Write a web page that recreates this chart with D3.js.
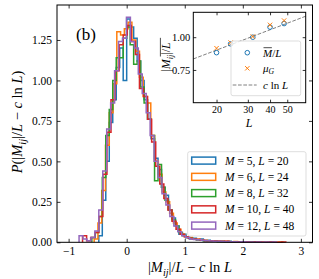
<!DOCTYPE html>
<html>
<head>
<meta charset="utf-8">
<script src="https://cdn.jsdelivr.net/npm/d3@7"></script>
<style>
  body { margin: 0; background: #fff; }
  svg text { font-family: "Liberation Serif", "Times New Roman", serif; fill: #000; }
</style>
</head>
<body>
<svg id="chart" width="319" height="279"></svg>
<script>
// ---- data ----
const mValues = [5, 6, 8, 10, 12];
const lValues = [20, 24, 32, 40, 48];
const colors = ["#1f77b4", "#ff7f0e", "#2ca02c", "#d62728", "#9467bd"];

// step histograms: first bin edge, bin width, densities
const binStart = [-0.48, -0.56, -0.60, -0.76, -0.82];
const binWidth = [0.06, 0.065, 0.06, 0.07, 0.068];
const histM5 = [0.04, 0.26, 0.50, 0.74, 0.88, 1.08, 1.20, 1.00, 1.38, 1.33,
  1.26, 1.12, 1.00, 0.88, 0.76, 0.64, 0.52, 0.45, 0.34, 0.29,
  0.20, 0.15, 0.10, 0.05, 0.05, 0.03, 0.02, 0.025, 0.015, 0.02,
  0.01, 0.012, 0.008, 0.01, 0.006, 0.008, 0.004, 0.006, 0.004, 0.003,
  0.004, 0.002, 0.003, 0.0, 0.002, 0.002];
const histM6 = [0.02, 0.12, 0.32, 0.60, 0.80, 0.98, 1.30, 1.28, 1.32, 1.36,
  1.25, 1.18, 1.02, 0.90, 0.86, 0.66, 0.50, 0.42, 0.31, 0.25,
  0.18, 0.12, 0.08, 0.05, 0.035, 0.03, 0.02, 0.02, 0.015, 0.012,
  0.01, 0.01, 0.008, 0.006, 0.007, 0.005, 0.004, 0.005, 0.003, 0.004,
  0.0, 0.003, 0.002, 0.0, 0.002, 0.0, 0.002, 0.0, 0.0, 0.002];
const histM8 = [0.03, 0.06, 0.16, 0.40, 0.66, 0.82, 1.00, 1.14, 1.14, 1.26,
  1.33, 1.22, 1.10, 1.12, 0.96, 0.86, 0.76, 0.66, 0.38, 0.48,
  0.34, 0.26, 0.20, 0.14, 0.10, 0.06, 0.04, 0.03, 0.025, 0.02,
  0.015, 0.012, 0.01, 0.008, 0.006, 0.006, 0.004, 0.004, 0.003, 0.002,
  0.0, 0.002, 0.0, 0.002, 0.0, 0.0, 0.002];
const histM10 = [0.04, 0.01, 0.03, 0.06, 0.16, 0.42, 0.68, 0.88, 1.06, 1.22,
  1.28, 1.34, 1.24, 1.16, 0.95, 0.90, 0.76, 0.62, 0.47, 0.36,
  0.27, 0.20, 0.13, 0.08, 0.05, 0.035, 0.025, 0.02, 0.018, 0.012,
  0.01, 0.01, 0.008, 0.006, 0.005, 0.006, 0.004, 0.003, 0.004, 0.002,
  0.003, 0.0, 0.002, 0.002, 0.0, 0.0, 0.002, 0.0, 0.0, 0.002];
const histM12 = [0.04, 0.02, 0.01, 0.03, 0.07, 0.20, 0.44, 0.70, 0.86, 1.06,
  1.24, 1.26, 1.39, 1.24, 1.20, 1.04, 0.92, 0.80, 0.66, 0.50,
  0.40, 0.30, 0.23, 0.16, 0.10, 0.065, 0.04, 0.03, 0.02, 0.018,
  0.015, 0.012, 0.01, 0.008, 0.006, 0.006, 0.005, 0.004, 0.004, 0.003,
  0.002, 0.003, 0.002, 0.002, 0.0, 0.002, 0.0, 0.002, 0.0, 0.002];
const histograms = [histM5, histM6, histM8, histM10, histM12];

// inset
const meanOverL = [0.882, 0.949, 1.000, 1.077, 1.104];
const muG = [0.916, 0.959, 1.005, 1.094, 1.127];
const fitL = [14.8, 63.5];
const fitValue = [0.834, 1.16];

const xTicks = [-1, 0, 1, 2, 3];
const yTicks = [0, 0.25, 0.5, 0.75, 1.0, 1.25];
const insetXTicks = [20, 30, 40, 50];
const insetYTicks = [0.75, 1.0];

// ---- helpers ----
// parts: [text, kind]; kind: i italic, r roman, s subscript, b = under an overline
function mathText(parent, parts, size) {
    const t = parent.append("text").attr("font-size", size);
    let shifted = 0, idx = 0;
    const barChars = [];
    parts.forEach(([s, k]) => {
        const sp = t.append("tspan").text(s);
        const isSub = k.includes("s");
        if (k.includes("i") || isSub) sp.attr("font-style", "italic");
        const want = isSub ? size * 0.25 : 0;
        if (want !== shifted) { sp.attr("dy", want - shifted); shifted = want; }
        if (isSub) sp.attr("font-size", size * 0.7);
        if (k.includes("b")) for (let c = 0; c < s.length; c++) barChars.push(idx + c);
        idx += s.length;
    });
    if (barChars.length) {
        const n = t.node();
        const e0 = n.getExtentOfChar(barChars[0]);
        const e1 = n.getExtentOfChar(barChars[barChars.length - 1]);
        parent.append("line")
            .attr("x1", e0.x + 0.5).attr("x2", e1.x + e1.width - 0.3)
            .attr("y1", -size * 0.8).attr("y2", -size * 0.8)
            .attr("stroke", "#000").attr("stroke-width", 0.7);
    }
    return t;
}

const svg = d3.select("#chart");

// ---- main axes ----
const x = d3.scaleLinear().domain([-1.2, 3.2]).range([57, 312.5]);
const y = d3.scaleLinear().domain([0, 1.466]).range([242.3, 5]);

const line = d3.line().x(d => x(d[0])).y(d => y(d[1]));

histograms.forEach((vals, s) => {
    const pts = [[binStart[s], 0]];
    vals.forEach((v, i) => {
        pts.push([binStart[s] + i * binWidth[s], v]);
        pts.push([binStart[s] + (i + 1) * binWidth[s], v]);
    });
    pts.push([binStart[s] + vals.length * binWidth[s], 0]);
    svg.append("path")
        .attr("d", line(pts))
        .attr("fill", "none")
        .attr("stroke", colors[s])
        .attr("stroke-width", 1.5)
        .attr("stroke-linejoin", "miter");
});

function styleAxis(g) {
    g.select(".domain").remove();
    g.selectAll(".tick line").attr("stroke", "#000").attr("stroke-width", 0.8);
    g.selectAll(".tick text").attr("font-family", "Liberation Serif, serif").attr("fill", "#000");
}

svg.append("g").attr("transform", "translate(0,242.3)")
    .call(d3.axisBottom(x).tickValues(xTicks).tickFormat(d3.format("d"))
        .tickSizeInner(-3.5).tickSizeOuter(0).tickPadding(4.5))
    .call(styleAxis).attr("font-size", 11.5);
svg.append("g").attr("transform", "translate(0,5)")
    .call(d3.axisTop(x).tickValues(xTicks).tickFormat("").tickSizeInner(-3.5).tickSizeOuter(0))
    .call(styleAxis);
svg.append("g").attr("transform", "translate(57,0)")
    .call(d3.axisLeft(y).tickValues(yTicks).tickFormat(d3.format(".2f"))
        .tickSizeInner(-3.5).tickSizeOuter(0).tickPadding(5))
    .call(styleAxis).attr("font-size", 11.5);
svg.append("g").attr("transform", "translate(312.5,0)")
    .call(d3.axisRight(y).tickValues(yTicks).tickFormat("").tickSizeInner(-3.5).tickSizeOuter(0))
    .call(styleAxis);

svg.append("rect")
    .attr("x", 57).attr("y", 5).attr("width", 255.5).attr("height", 237.3)
    .attr("fill", "none").attr("stroke", "#000").attr("stroke-width", 1);

// axis labels
const xl = svg.append("g").attr("transform", "translate(190,272)");
mathText(xl, [["|", "r"], ["M", "i"], ["ij", "s"], ["|/", "r"], ["L", "i"], [" \u2212 ", "r"],
    ["c", "i"], [" ln ", "r"], ["L", "i"]], 14.5).attr("text-anchor", "middle");
const yl = svg.append("g").attr("transform", "translate(22,122) rotate(-90)");
mathText(yl, [["P", "i"], ["(|", "r"], ["M", "i"], ["ij", "s"], ["|/", "r"], ["L", "i"], [" \u2212 ", "r"],
    ["c", "i"], [" ln ", "r"], ["L", "i"], [")", "r"]], 14.5).attr("text-anchor", "middle");

svg.append("text").attr("x", 76).attr("y", 40).attr("font-size", 17).text("(b)");

// main legend
svg.append("rect")
    .attr("x", 187.7).attr("y", 151.7).attr("width", 118.3).attr("height", 84.3)
    .attr("rx", 2).attr("fill", "#fff").attr("fill-opacity", 0.8)
    .attr("stroke", "#d4d4d4").attr("stroke-width", 0.8);
mValues.forEach((m, i) => {
    const cy = 160.6 + i * 16.25;
    svg.append("rect")
        .attr("x", 191.7).attr("y", cy - 3.5).attr("width", 24).attr("height", 7)
        .attr("fill", "none").attr("stroke", colors[i]).attr("stroke-width", 1.5);
    const g = svg.append("g").attr("transform", `translate(225,${cy + 4})`);
    mathText(g, [["M", "i"], [" = " + m + ", ", "r"], ["L", "i"], [" = " + lValues[i], "r"]], 11.5);
});

// ---- inset ----
const ix = d3.scaleLog().domain([14.8, 63.5]).range([193.3, 305.7]);
const iy = d3.scaleLinear().domain([0.5, 1.19]).range([102.7, 12.3]);

svg.append("rect")
    .attr("x", 193.3).attr("y", 12.3).attr("width", 112.4).attr("height", 90.4)
    .attr("fill", "#fff");

svg.append("path")
    .attr("d", d3.line().x(d => ix(d[0])).y(d => iy(d[1]))(fitL.map((l, i) => [l, fitValue[i]])))
    .attr("fill", "none").attr("stroke", "#808080").attr("stroke-width", 1)
    .attr("stroke-dasharray", "3.7,1.6");

svg.selectAll(".mbar").data(lValues).join("circle")
    .attr("class", "mbar")
    .attr("cx", d => ix(d)).attr("cy", (d, i) => iy(meanOverL[i])).attr("r", 2.3)
    .attr("fill", "none").attr("stroke", colors[0]).attr("stroke-width", 1);

function cross(g, cx, cy, r) {
    g.append("path")
        .attr("d", `M${cx - r},${cy - r}L${cx + r},${cy + r}M${cx - r},${cy + r}L${cx + r},${cy - r}`)
        .attr("stroke", colors[1]).attr("stroke-width", 1).attr("fill", "none");
}
lValues.forEach((l, i) => cross(svg, ix(l), iy(muG[i]), 2.2));

svg.append("g").attr("transform", "translate(0,102.7)")
    .call(d3.axisBottom(ix).tickValues(insetXTicks).tickFormat(d3.format("d"))
        .tickSizeInner(-3).tickSizeOuter(0).tickPadding(3))
    .call(styleAxis).attr("font-size", 10);
svg.append("g").attr("transform", "translate(0,12.3)")
    .call(d3.axisTop(ix).tickValues(insetXTicks).tickFormat("").tickSizeInner(-3).tickSizeOuter(0))
    .call(styleAxis);
svg.append("g").attr("transform", "translate(193.3,0)")
    .call(d3.axisLeft(iy).tickValues(insetYTicks).tickFormat(d3.format(".2f"))
        .tickSizeInner(-3).tickSizeOuter(0).tickPadding(3))
    .call(styleAxis).attr("font-size", 10.5);
svg.append("g").attr("transform", "translate(305.7,0)")
    .call(d3.axisRight(iy).tickValues(insetYTicks).tickFormat("").tickSizeInner(-3).tickSizeOuter(0))
    .call(styleAxis);

// inset legend
svg.append("rect")
    .attr("x", 231).attr("y", 41).attr("width", 69.7).attr("height", 54.7)
    .attr("rx", 2).attr("fill", "#fff").attr("fill-opacity", 0.8)
    .attr("stroke", "#d4d4d4").attr("stroke-width", 0.8);
svg.append("circle").attr("cx", 247.3).attr("cy", 52.7).attr("r", 2.3)
    .attr("fill", "none").attr("stroke", colors[0]).attr("stroke-width", 1);
cross(svg, 247.3, 68.3, 2.2);
svg.append("line").attr("x1", 232.7).attr("x2", 256.7).attr("y1", 85).attr("y2", 85)
    .attr("stroke", "#808080").attr("stroke-width", 1).attr("stroke-dasharray", "3.7,1.6");
const l1 = svg.append("g").attr("transform", "translate(263,56.5)");
mathText(l1, [["M", "ib"], ["/", "r"], ["L", "i"]], 11);
const l2 = svg.append("g").attr("transform", "translate(263,71.5)");
mathText(l2, [["\u03bc", "i"], ["G", "s"]], 11);
const l3 = svg.append("g").attr("transform", "translate(263,88.5)");
mathText(l3, [["c", "i"], [" ln ", "r"], ["L", "i"]], 11);

svg.append("rect")
    .attr("x", 193.3).attr("y", 12.3).attr("width", 112.4).attr("height", 90.4)
    .attr("fill", "none").attr("stroke", "#000").attr("stroke-width", 1);

// inset labels
const ixl = svg.append("g").attr("transform", "translate(249,127)");
mathText(ixl, [["L", "i"]], 12).attr("text-anchor", "middle");
const iyl = svg.append("g").attr("transform", "translate(170,57) rotate(-90)");
mathText(iyl, [["|", "rb"], ["M", "ib"], ["ij", "sb"], ["|", "rb"], ["/", "r"], ["L", "i"]], 12)
    .attr("text-anchor", "middle");
</script>
</body>
</html>
